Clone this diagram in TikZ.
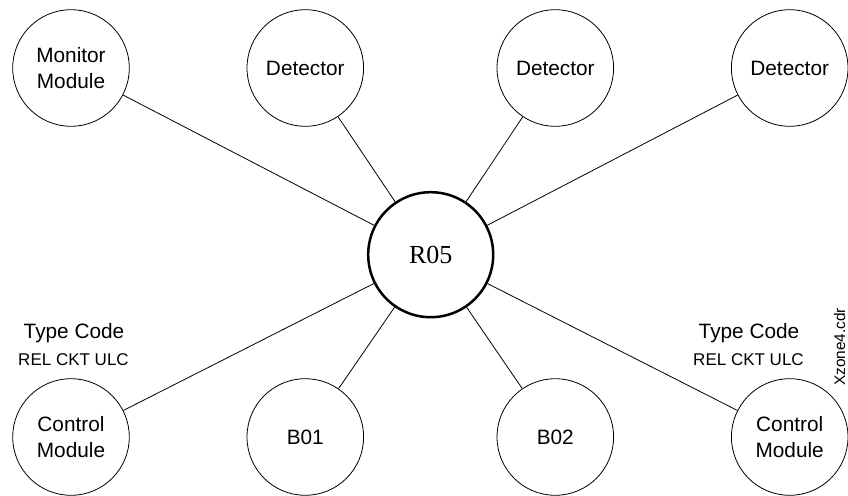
\documentclass[tikz,border=0pt]{standalone}
\usepackage{fontspec}
\setmainfont{Liberation Sans}
\newfontfamily\serifR{Liberation Serif}
\begin{document}
\begin{tikzpicture}[x=1pt,y=-1pt,
  dev/.style={draw,circle,line width=0.8pt,minimum size=116.6pt,inner sep=0pt,align=center,
    font=\fontsize{20.8}{26.5}\selectfont},
  hub/.style={draw,circle,line width=2.5pt,minimum size=125pt,inner sep=0pt,
    font=\serifR\fontsize{26}{30}\selectfont},
  link/.style={line width=0.8pt},
  tc/.style={align=center,inner sep=0pt,font=\fontsize{20.8}{26.5}\selectfont},
  tcs/.style={inner sep=0pt,font=\fontsize{17}{20}\selectfont}]
\useasboundingbox (0,0) rectangle (848,495);
\node[hub] (r05) at (430.7,254.7) {R05};
\node[dev] (mon) at (71,68) {Monitor\\Module};
\node[dev] (d1) at (305.3,68) {Detector};
\node[dev] (d2) at (555.3,68) {Detector};
\node[dev] (d3) at (789.7,68) {Detector};
\node[dev] (cm1) at (71,437) {Control\\Module};
\node[dev] (b01) at (305.3,437) {B01};
\node[dev] (b02) at (555.3,437) {B02};
\node[dev] (cm2) at (789.7,437) {Control\\Module};
\foreach \n in {mon,d1,d2,d3,cm1,b01,b02,cm2} \draw[link] (\n) -- (r05);
\node[tc] (tc1) at (74,333) {Type Code};
\node[tcs] (rc1) at (73.5,360) {REL CKT ULC};
\node[tc] (tc2) at (749,333) {Type Code};
\node[tcs] (rc2) at (748.5,360) {REL CKT ULC};
\node[inner sep=0pt,rotate=90,font=\fontsize{15.4}{18}\selectfont] (xz) at (839.5,347) {Xzone4.cdr};
\end{tikzpicture}
\end{document}
